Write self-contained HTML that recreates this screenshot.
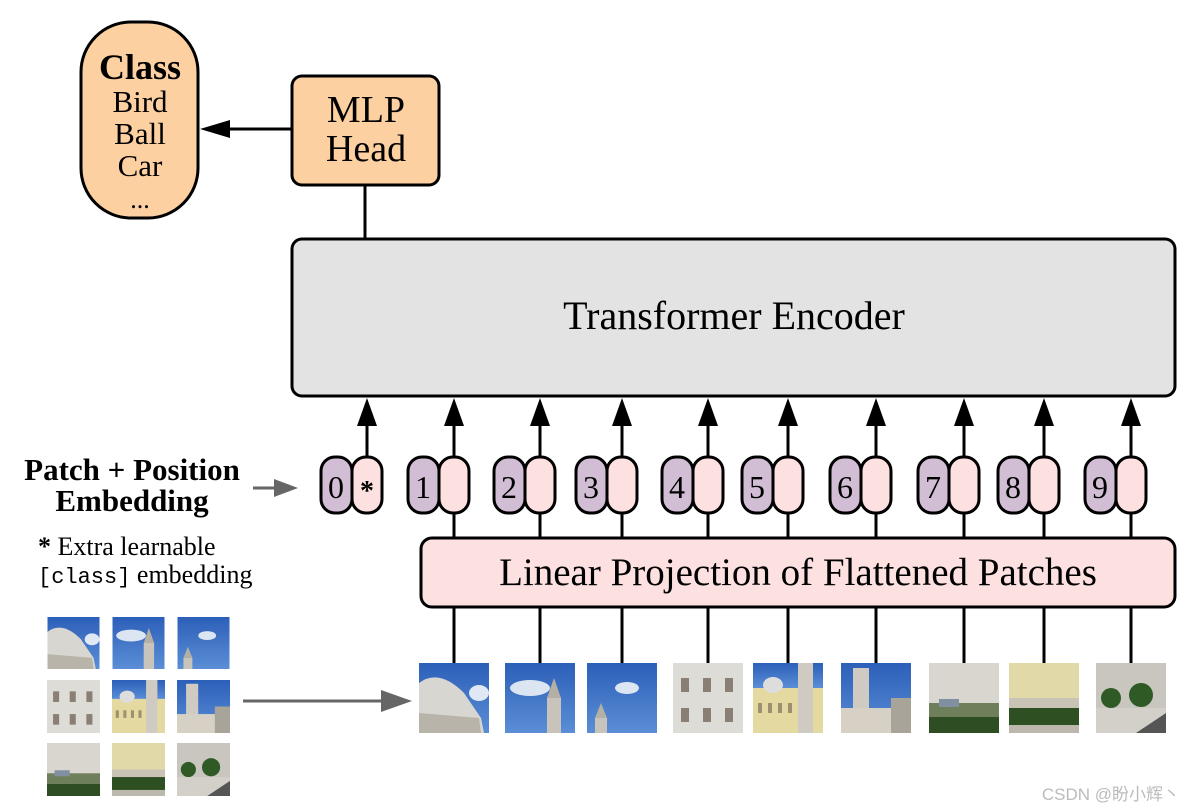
<!DOCTYPE html>
<html><head><meta charset="utf-8"><style>
html,body{margin:0;padding:0;background:#fff;}
svg{display:block;}
text{font-family:"Liberation Serif",serif;}
</style></head><body>
<svg width="1194" height="812" viewBox="0 0 1194 812" xmlns="http://www.w3.org/2000/svg">
<defs>
<linearGradient id="sky" x1="0" y1="0" x2="0" y2="1"><stop offset="0" stop-color="#2c5fb8"/><stop offset="1" stop-color="#5b8ed6"/></linearGradient>
<symbol id="p1" viewBox="0 0 70 70"><rect width="70" height="70" fill="url(#sky)"/><path d="M0,70 L0,20 Q20,5 45,30 L62,55 L65,70z" fill="#d8d6d0"/><path d="M0,50 L60,55 L62,70 L0,70z" fill="#b8b4aa"/><ellipse cx="60" cy="30" rx="10" ry="8" fill="#dfe8f4"/></symbol>
<symbol id="p2" viewBox="0 0 70 70"><rect width="70" height="70" fill="url(#sky)"/><ellipse cx="25" cy="25" rx="20" ry="8" fill="#dce6f3"/><rect x="42" y="35" width="14" height="35" fill="#c8c4bb"/><path d="M42,35 L49,15 L56,35z" fill="#b5b0a5"/></symbol>
<symbol id="p3" viewBox="0 0 70 70"><rect width="70" height="70" fill="url(#sky)"/><ellipse cx="40" cy="25" rx="12" ry="6" fill="#dce6f3"/><rect x="8" y="55" width="12" height="15" fill="#c8c4bb"/><path d="M8,55 L14,40 L20,55z" fill="#b5b0a5"/></symbol>
<symbol id="p4" viewBox="0 0 70 70"><rect width="70" height="70" fill="#dedcd6"/><g fill="#8a7f74"><rect x="8" y="15" width="8" height="14"/><rect x="30" y="15" width="8" height="14"/><rect x="52" y="15" width="8" height="14"/><rect x="8" y="45" width="8" height="14"/><rect x="30" y="45" width="8" height="14"/><rect x="52" y="45" width="8" height="14"/></g></symbol>
<symbol id="p5" viewBox="0 0 70 70"><rect width="70" height="25" fill="url(#sky)"/><rect y="25" width="70" height="45" fill="#e4d9a0"/><rect x="45" y="0" width="15" height="70" fill="#cfcbc2"/><ellipse cx="20" cy="22" rx="10" ry="8" fill="#ddd"/><g fill="#9c9070"><rect x="5" y="40" width="4" height="10"/><rect x="15" y="40" width="4" height="10"/><rect x="25" y="40" width="4" height="10"/><rect x="35" y="40" width="4" height="10"/></g></symbol>
<symbol id="p6" viewBox="0 0 70 70"><rect width="70" height="70" fill="url(#sky)"/><rect x="12" y="5" width="16" height="65" fill="#cfcbc2"/><rect y="45" width="70" height="25" fill="#d6d1c4"/><rect x="50" y="35" width="20" height="35" fill="#a9a499"/></symbol>
<symbol id="p7" viewBox="0 0 70 70"><rect width="70" height="70" fill="#d9d6cf"/><rect y="40" width="70" height="14" fill="#6f7f5c"/><rect y="54" width="70" height="16" fill="#2f4d22"/><rect x="10" y="36" width="20" height="8" fill="#8090a0"/></symbol>
<symbol id="p8" viewBox="0 0 70 70"><rect width="70" height="70" fill="#e2d9a8"/><rect y="35" width="70" height="12" fill="#c9c3b6"/><rect y="45" width="70" height="25" fill="#2e4f21"/><rect x="0" y="62" width="70" height="8" fill="#bdb8ad"/></symbol>
<symbol id="p9" viewBox="0 0 70 70"><rect width="70" height="70" fill="#c9c6c0"/><circle cx="15" cy="35" r="10" fill="#2f5a25"/><circle cx="45" cy="32" r="12" fill="#2f5a25"/><rect y="45" width="70" height="25" fill="#d3d0c9"/><path d="M40,70 L70,50 L70,70z" fill="#555"/></symbol>
<g id="tk">
<line x1="367" y1="457" x2="367" y2="420" stroke="#000" stroke-width="3"/><path d="M367,398 L357,426 L377,426z"/>
<line x1="367" y1="513" x2="367" y2="538" stroke="#000" stroke-width="3"/><line x1="367" y1="607" x2="367" y2="663" stroke="#000" stroke-width="3"/>
<rect x="321" y="457" width="31" height="56" rx="14" fill="#d2bed4" stroke="#000" stroke-width="3"/><rect x="352" y="457" width="30" height="56" rx="14" fill="#fde0e0" stroke="#000" stroke-width="3"/>
</g>
</defs>

<rect x="81" y="22" width="117" height="196" rx="50" fill="#fdd0a2" stroke="#000" stroke-width="3"/>
<text x="140" y="79" font-size="36" font-weight="bold" text-anchor="middle">Class</text>
<text x="140" y="112" font-size="31" text-anchor="middle">Bird</text>
<text x="140" y="144" font-size="31" text-anchor="middle">Ball</text>
<text x="140" y="176" font-size="31" text-anchor="middle">Car</text>
<text x="140" y="208" font-size="26" text-anchor="middle">...</text>

<rect x="292" y="76" width="147" height="109" rx="10" fill="#fdd0a2" stroke="#000" stroke-width="3"/>
<text x="366" y="122" font-size="38" text-anchor="middle">MLP</text>
<text x="366" y="161" font-size="38" text-anchor="middle">Head</text>
<line x1="292" y1="129" x2="225" y2="129" stroke="#000" stroke-width="3"/>
<path d="M200,129 L230,120 L230,138z" fill="#000"/>
<line x1="365" y1="185" x2="365" y2="239" stroke="#000" stroke-width="3"/>

<rect x="292" y="239" width="883" height="157" rx="10" fill="#e3e3e3" stroke="#000" stroke-width="3"/>
<text x="734" y="329" font-size="40" text-anchor="middle">Transformer Encoder</text>

<rect x="421" y="538" width="754" height="69" rx="11" fill="#fde0e0" stroke="#000" stroke-width="3"/>
<text x="798" y="585" font-size="39" text-anchor="middle">Linear Projection of Flattened Patches</text>

<text x="132" y="480" font-size="31" font-weight="bold" text-anchor="middle">Patch + Position</text>
<text x="132" y="511" font-size="31" font-weight="bold" text-anchor="middle">Embedding</text>
<line x1="253" y1="488" x2="280" y2="488" stroke="#666" stroke-width="3"/>
<path d="M298,488 L274,479 L274,497z" fill="#666"/>
<text x="38" y="555" font-size="26"><tspan font-weight="bold">*</tspan> Extra learnable</text>
<text x="38" y="583" font-size="26"><tspan font-family="Liberation Mono,monospace" font-size="22">[class]</tspan> embedding</text>

<line x1="367" y1="457" x2="367" y2="420" stroke="#000" stroke-width="3"/>
<path d="M367,398 L357,426 L377,426z" fill="#000"/>
<rect x="321" y="457" width="31" height="56" rx="14" fill="#d2bed4" stroke="#000" stroke-width="3"/>
<rect x="352" y="457" width="30" height="56" rx="14" fill="#fde0e0" stroke="#000" stroke-width="3"/>
<text x="336" y="498" font-size="32" text-anchor="middle">0</text>
<text x="367" y="500" font-size="28" font-weight="bold" text-anchor="middle">*</text>

<g transform="translate(87,0)"><use href="#tk"/><text x="336" y="498" font-size="32" text-anchor="middle">1</text><use href="#p1" x="332" y="663" width="70" height="70"/></g>
<g transform="translate(173,0)"><use href="#tk"/><text x="336" y="498" font-size="32" text-anchor="middle">2</text><use href="#p2" x="332" y="663" width="70" height="70"/></g>
<g transform="translate(255,0)"><use href="#tk"/><text x="336" y="498" font-size="32" text-anchor="middle">3</text><use href="#p3" x="332" y="663" width="70" height="70"/></g>
<g transform="translate(341,0)"><use href="#tk"/><text x="336" y="498" font-size="32" text-anchor="middle">4</text><use href="#p4" x="332" y="663" width="70" height="70"/></g>
<g transform="translate(421,0)"><use href="#tk"/><text x="336" y="498" font-size="32" text-anchor="middle">5</text><use href="#p5" x="332" y="663" width="70" height="70"/></g>
<g transform="translate(509,0)"><use href="#tk"/><text x="336" y="498" font-size="32" text-anchor="middle">6</text><use href="#p6" x="332" y="663" width="70" height="70"/></g>
<g transform="translate(597,0)"><use href="#tk"/><text x="336" y="498" font-size="32" text-anchor="middle">7</text><use href="#p7" x="332" y="663" width="70" height="70"/></g>
<g transform="translate(677,0)"><use href="#tk"/><text x="336" y="498" font-size="32" text-anchor="middle">8</text><use href="#p8" x="332" y="663" width="70" height="70"/></g>
<g transform="translate(764,0)"><use href="#tk"/><text x="336" y="498" font-size="32" text-anchor="middle">9</text><use href="#p9" x="332" y="663" width="70" height="70"/></g>

<use href="#p1" x="47" y="617" width="53" height="52"/>
<use href="#p2" x="112" y="617" width="53" height="52"/>
<use href="#p3" x="177" y="617" width="53" height="52"/>
<use href="#p4" x="47" y="680" width="53" height="53"/>
<use href="#p5" x="112" y="680" width="53" height="53"/>
<use href="#p6" x="177" y="680" width="53" height="53"/>
<use href="#p7" x="47" y="743" width="53" height="53"/>
<use href="#p8" x="112" y="743" width="53" height="53"/>
<use href="#p9" x="177" y="743" width="53" height="53"/>

<line x1="243" y1="701" x2="385" y2="701" stroke="#666" stroke-width="3"/>
<path d="M412,701 L381,690 L381,712z" fill="#666"/>

<text x="1180" y="800" font-size="17" fill="#bbb" text-anchor="end" style="font-family:'Liberation Sans','Noto Sans CJK SC',sans-serif">CSDN @盼小辉丶</text>
</svg>
</body></html>
